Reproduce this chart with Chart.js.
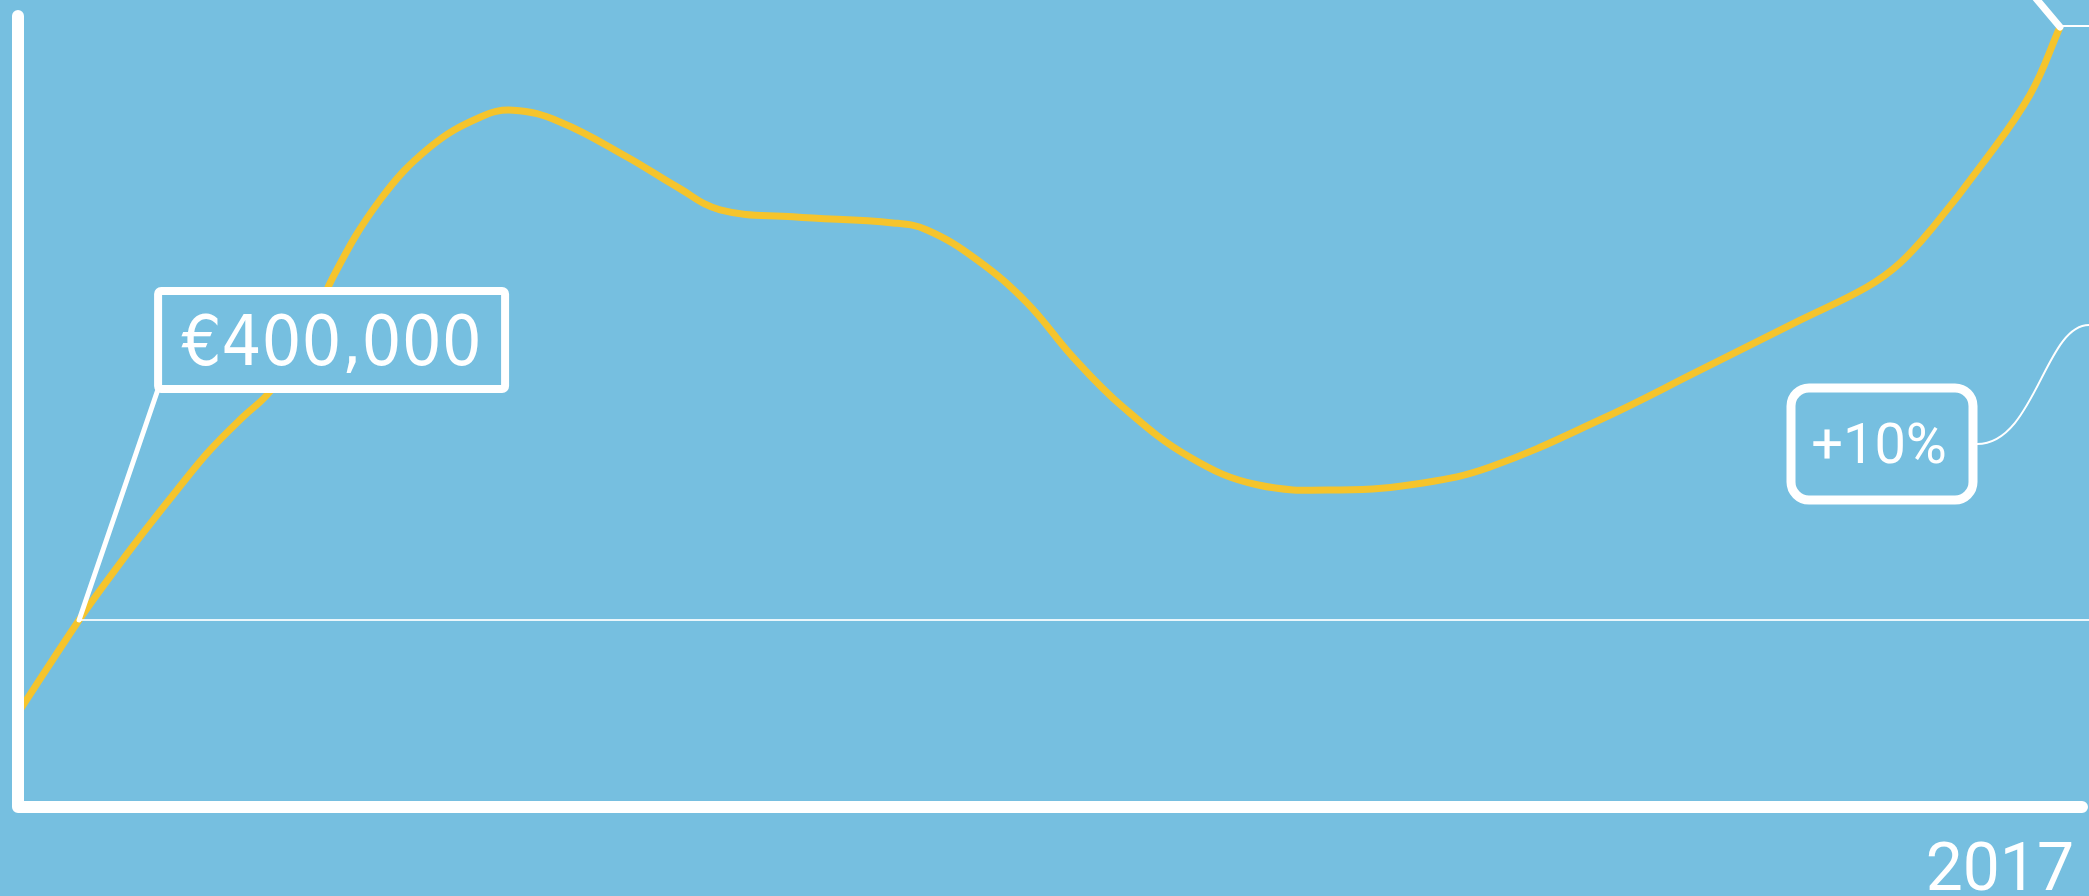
<!DOCTYPE html>
<html>
<head>
<meta charset="utf-8">
<script src="https://cdn.jsdelivr.net/npm/chart.js@4/dist/chart.umd.min.js"></script>
<style>
  html, body { margin: 0; padding: 0; background: #76bfe0; overflow: hidden; }
  #wrap { width: 2089px; height: 896px; position: relative; }
</style>
</head>
<body>
<div id="wrap"><canvas id="chart"></canvas></div>
<script>
// time position along the period (0 = start, 100 = end of 2017)
const timePoints = [0, 2.95, 4.44, 6.04, 7.68, 9.27, 10.86, 12.02, 13.62, 15.21, 17.48, 19.89,
    22.31, 23.90, 26.17, 29.41, 31.82, 33.90, 37.42, 42.25, 43.89, 46.31, 48.72, 50.94, 53.36,
    56.59, 59.83, 63.83, 67.84, 71.08, 76.39, 81.22, 86.05, 89.28, 90.87, 92.47, 94.88, 97.15, 98.60];
// value in thousands of euros
const values = [201, 400, 492, 586, 678, 763, 834, 881, 973, 1133, 1298, 1411,
    1475, 1490, 1465, 1390, 1326, 1277, 1262, 1249, 1234, 1170, 1078, 962, 855,
    748, 689, 678, 693, 727, 828, 934, 1041, 1112, 1163, 1240, 1377, 1523, 1668];
const yearLabel = '2017';
const calloutLabel = '€400,000';
const calloutIndex = 1;
const growthLabel = '+10%';

const bg = '#76bfe0';
const yellow = '#f5c42c';

const annotations = {
    id: 'annotations',
    beforeDraw(chart) {
        const ctx = chart.ctx;
        ctx.save();
        ctx.fillStyle = bg;
        ctx.fillRect(0, 0, chart.width, chart.height);
        ctx.restore();
    },
    afterDatasetsDraw(chart) {
        const ctx = chart.ctx;
        const xs = chart.scales.x;
        const ys = chart.scales.y;
        const area = chart.chartArea;
        ctx.save();
        ctx.strokeStyle = '#fff';
        ctx.lineCap = 'round';
        ctx.lineJoin = 'round';

        // axes
        ctx.lineWidth = 12;
        ctx.beginPath();
        ctx.moveTo(area.left, 16);
        ctx.lineTo(area.left, area.bottom);
        ctx.lineTo(chart.width - 7, area.bottom);
        ctx.stroke();

        // callout for the first value
        const ax = xs.getPixelForValue(timePoints[calloutIndex]);
        const ay = ys.getPixelForValue(values[calloutIndex]);
        ctx.lineWidth = 2;
        ctx.strokeStyle = 'rgba(255,255,255,0.85)';
        ctx.beginPath();
        ctx.moveTo(ax, ay);
        ctx.lineTo(chart.width, ay);
        ctx.stroke();

        const bx = ax + 79, bbottom = ay - 231, bw = 347, bh = 98;
        ctx.strokeStyle = '#fff';
        ctx.lineWidth = 5;
        ctx.beginPath();
        ctx.moveTo(ax, ay);
        ctx.lineTo(bx, bbottom);
        ctx.stroke();

        ctx.fillStyle = bg;
        ctx.lineWidth = 8;
        ctx.beginPath();
        ctx.roundRect(bx, bbottom - bh, bw, bh, 3);
        ctx.fill();
        ctx.stroke();

        ctx.fillStyle = '#fff';
        ctx.font = '70px "DejaVu Sans Condensed", "DejaVu Sans", sans-serif';
        ctx.textAlign = 'center';
        ctx.textBaseline = 'alphabetic';
        ctx.fillText(calloutLabel, bx + bw / 2, bbottom - 24);

        // end point marker at top right
        const last = values.length - 1;
        const ex = xs.getPixelForValue(timePoints[last]);
        const ey = ys.getPixelForValue(values[last]);
        ctx.lineWidth = 7;
        ctx.beginPath();
        ctx.moveTo(ex, ey);
        ctx.lineTo(ex - 32, ey - 38);
        ctx.stroke();
        ctx.lineWidth = 2;
        ctx.beginPath();
        ctx.moveTo(ex, ey - 1);
        ctx.lineTo(chart.width, ey - 1);
        ctx.stroke();

        // growth badge
        const gx = 1791, gy = 388, gw = 182, gh = 112;
        ctx.lineWidth = 2;
        ctx.beginPath();
        ctx.moveTo(gx + gw + 4, gy + gh / 2);
        ctx.bezierCurveTo(2035, gy + gh / 2, 2045, 325, chart.width, 325);
        ctx.stroke();

        ctx.lineWidth = 9;
        ctx.beginPath();
        ctx.roundRect(gx, gy, gw, gh, 18);
        ctx.stroke();

        ctx.font = '56px Roboto, "Open Sans", sans-serif';
        ctx.fillText(growthLabel, gx + gw / 2 - 3, 463);

        // year label
        ctx.font = '66px Roboto, "Open Sans", sans-serif';
        ctx.textAlign = 'right';
        ctx.fillText(yearLabel, 2074, 890);
        ctx.restore();
    }
};

new Chart(document.getElementById('chart'), {
    type: 'line',
    data: {
        datasets: [{
            data: timePoints.map((t, i) => ({ x: t, y: values[i] })),
            borderColor: yellow,
            borderWidth: 7,
            pointRadius: 0,
            tension: 0.4,
            fill: false
        }]
    },
    options: {
        responsive: true,
        maintainAspectRatio: false,
        animation: false,
        layout: { padding: { left: 18, top: 12, right: 0, bottom: 89 } },
        plugins: { legend: { display: false }, tooltip: { enabled: false } },
        scales: {
            x: { type: 'linear', min: 0, max: 100, display: false },
            y: { type: 'linear', min: 0, max: 1700, display: false }
        }
    },
    plugins: [annotations]
});
</script>
</body>
</html>
